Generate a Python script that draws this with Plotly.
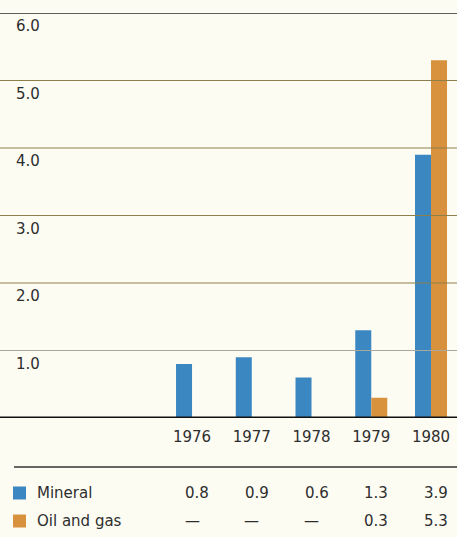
import plotly.graph_objects as go

# Data (billions)
years = [1976, 1977, 1978, 1979, 1980]
mineral = [0.8, 0.9, 0.6, 1.3, 3.9]
oil_gas = [None, None, None, 0.3, 5.3]
series_names = ["Mineral", "Oil and gas"]
y_ticks = [1.0, 2.0, 3.0, 4.0, 5.0, 6.0]

W, H = 457, 537
BG = "#fdfcf3"
BLUE = "#3a87c1"
ORANGE = "#d8923e"
TEXT = "#2e2e2e"
FONT = "DejaVu Sans"
FS = 15

fig = go.Figure()
fig.add_trace(go.Bar(x=years, y=mineral, name=series_names[0],
                     marker=dict(color=BLUE, line=dict(width=0))))
fig.add_trace(go.Bar(x=years, y=oil_gas, name=series_names[1],
                     marker=dict(color=ORANGE, line=dict(width=0))))

shapes = []
annotations = []

# Horizontal rules drawn over the bars
for v in y_ticks:
    if v == 6.0:
        col, w = "#2a2a2a", 1.5
    elif v == 1.0:
        col, w = "#a8a8a0", 1.2
    else:
        col, w = "#8c7f4a", 1.0
    shapes.append(dict(type="line", xref="paper", yref="y", x0=0, x1=1,
                       y0=v, y1=v, line=dict(color=col, width=w), layer="above"))
    annotations.append(dict(x=16 / W, xref="paper", y=v, yref="y", text=f"{v:.1f}",
                            showarrow=False, xanchor="left", yanchor="top", yshift=-2,
                            xshift=-2,
                            font=dict(family=FONT, size=FS, color=TEXT)))

# Baseline
shapes.append(dict(type="line", xref="paper", yref="y", x0=0, x1=1, y0=0, y1=0,
                   line=dict(color="#111111", width=3), layer="above"))

# Table rule
table_rule_y = (H - 467) / H
shapes.append(dict(type="line", xref="paper", yref="paper", x0=14 / W, x1=1,
                   y0=table_rule_y, y1=table_rule_y,
                   line=dict(color="#333333", width=1.5)))

# Table rows
row_y = [(H - 493) / H, (H - 521) / H]
row_vals = [mineral, oil_gas]
row_cols = [BLUE, ORANGE]
for name, vals, col, ry in zip(series_names, row_vals, row_cols, row_y):
    half = 6.5 / H
    shapes.append(dict(type="rect", xref="paper", yref="paper",
                       x0=13 / W, x1=26 / W, y0=ry - half, y1=ry + half,
                       fillcolor=col, line=dict(color=col, width=0)))
    annotations.append(dict(x=35 / W, xref="paper", y=ry, yref="paper", text=name,
                            showarrow=False, xanchor="left", yanchor="middle",
                            font=dict(family=FONT, size=FS, color=TEXT)))
    for yr, v in zip(years, vals):
        if v is None:
            annotations.append(dict(x=yr, xref="x", y=ry, yref="paper", text="—",
                                    showarrow=False, xanchor="center", yanchor="middle",
                                    font=dict(family=FONT, size=FS, color=TEXT)))
        else:
            annotations.append(dict(x=yr, xref="x", y=ry, yref="paper", text=f"{v:.1f}",
                                    showarrow=False, xanchor="right", yanchor="middle",
                                    xshift=19,
                                    font=dict(family=FONT, size=FS, color=TEXT)))

fig.update_layout(
    width=W, height=H,
    margin=dict(l=0, r=0, t=0, b=0),
    paper_bgcolor=BG, plot_bgcolor=BG,
    barmode="group", bargap=0.464, bargroupgap=0,
    showlegend=False,
    xaxis=dict(domain=[14 / W, 1], range=[1973.02, 1980.435],
               tickvals=years, ticktext=[str(y) for y in years],
               showgrid=False, zeroline=False, showline=False, ticks="",
               ticklabelstandoff=8,
               tickfont=dict(family=FONT, size=FS, color=TEXT)),
    yaxis=dict(domain=[119 / H, 524 / H], range=[0, 6],
               showgrid=False, zeroline=False, showline=False,
               showticklabels=False, ticks=""),
    shapes=shapes,
    annotations=annotations,
)

fig.write_html("out.html")
